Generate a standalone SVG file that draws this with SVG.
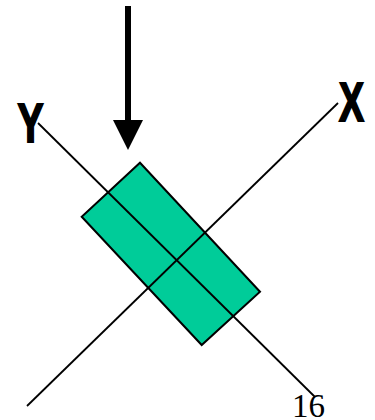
<svg xmlns="http://www.w3.org/2000/svg" width="375" height="420" viewBox="0 0 375 420">
<style>
.axis{stroke:#000;stroke-width:1.8;fill:none}
.lbl{font-family:"Liberation Sans",Arial,sans-serif;font-weight:bold;font-size:56px;fill:#000;stroke:#000;stroke-width:2}
.num{font-family:"Liberation Serif","Times New Roman",serif;font-size:33px;fill:#000}
</style>
<rect width="375" height="420" fill="#fff"/>
<g id="block">
<polygon points="140,162.7 260,291.7 201.7,345 81.7,216.7" fill="#00CC99" stroke="#000" stroke-width="2"/>
</g>
<g id="connectors">
<line class="axis" x1="38" y1="123" x2="315" y2="397"/>
<line class="axis" x1="338" y1="103" x2="27" y2="406"/>
<g id="force">
<rect x="125" y="6" width="6" height="116" fill="#000"/>
<polygon points="113,120 143,120 128,150" fill="#000"/>
</g>
</g>
<g id="labelY"><text class="lbl" x="17.5" y="141.5" textLength="26" lengthAdjust="spacingAndGlyphs">Y</text></g>
<g id="labelX"><text class="lbl" x="339" y="121" textLength="25" lengthAdjust="spacingAndGlyphs">X</text></g>
<text class="num" x="292" y="417">16</text>
</svg>
